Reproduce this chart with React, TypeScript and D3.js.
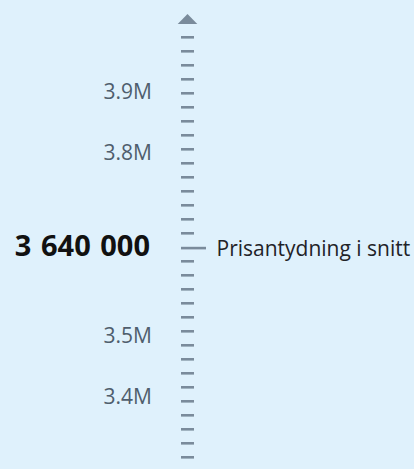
import { useRef, useEffect } from 'react'
import * as d3 from 'd3'

// values on the price scale
const tickValues = [3900000, 3800000, 3500000, 3400000]
const tickLabels = ['3.9M', '3.8M', '3.5M', '3.4M']
const markerValue = 3640000
const markerLabel = '3 640 000'
const markerText = 'Prisantydning i snitt'
const rulerCount = 31

const App = () => {
    const svgRef = useRef<SVGSVGElement>(null)

    useEffect(() => {
        const w = 414
        const h = 469
        const svg = d3.select(svgRef.current)
        svg.selectAll('*').remove()
        svg.attr('width', w).attr('height', h)

        svg.append('rect')
            .attr('width', w)
            .attr('height', h)
            .attr('fill', '#dff1fc')

        const axisX = 187.5
        const font = '"Open Sans", sans-serif'
        const tickColor = '#7a8b9b'

        // value scale
        const yScale = d3.scaleLinear()
            .domain([3400000, 3900000])
            .range([397, 92])

        // ruler ticks, evenly spaced down the axis
        const ruler = d3.scaleLinear()
            .domain([0, rulerCount - 1])
            .range([37.3, 457.3])

        const markerY = yScale(markerValue) - 2.5
        const ticks = d3.range(rulerCount)
            .map(i => ruler(i))
            .filter(y => Math.abs(y - markerY) > 7)

        svg.append('g')
            .selectAll('rect')
            .data(ticks)
            .join('rect')
                .attr('x', axisX - 6.5)
                .attr('y', d => d - 1.3)
                .attr('width', 13)
                .attr('height', 2.6)
                .attr('fill', tickColor)

        // arrow at the top
        svg.append('path')
            .attr('d', d3.line()([[axisX - 9.8, 24], [axisX, 14], [axisX + 9.8, 24]]) + 'Z')
            .attr('fill', tickColor)

        // value labels
        svg.append('g')
            .selectAll('text')
            .data(tickValues)
            .join('text')
                .attr('x', 152)
                .attr('y', d => yScale(d) + 7)
                .attr('text-anchor', 'end')
                .attr('font-family', font)
                .attr('font-size', 21)
                .attr('fill', '#4f5e6d')
                .text((d, i) => tickLabels[i])

        // marker
        svg.append('rect')
            .attr('x', axisX - 6.5)
            .attr('y', markerY - 1.3)
            .attr('width', 25)
            .attr('height', 2.6)
            .attr('fill', tickColor)

        svg.append('text')
            .attr('x', 150)
            .attr('y', markerY + 7.5)
            .attr('text-anchor', 'end')
            .attr('font-family', font)
            .attr('font-weight', 'bold')
            .attr('font-size', 29)
            .attr('word-spacing', 2)
            .attr('fill', '#111')
            .text(markerLabel)

        svg.append('text')
            .attr('x', 216.5)
            .attr('y', markerY + 8)
            .attr('font-family', font)
            .attr('font-size', 21)
            .attr('fill', '#1f2328')
            .text(markerText)
    }, [])

    return (
        <svg ref={svgRef} style={{ position: 'absolute', left: 0, top: 0, display: 'block' }}></svg>
    )
}

export default App
